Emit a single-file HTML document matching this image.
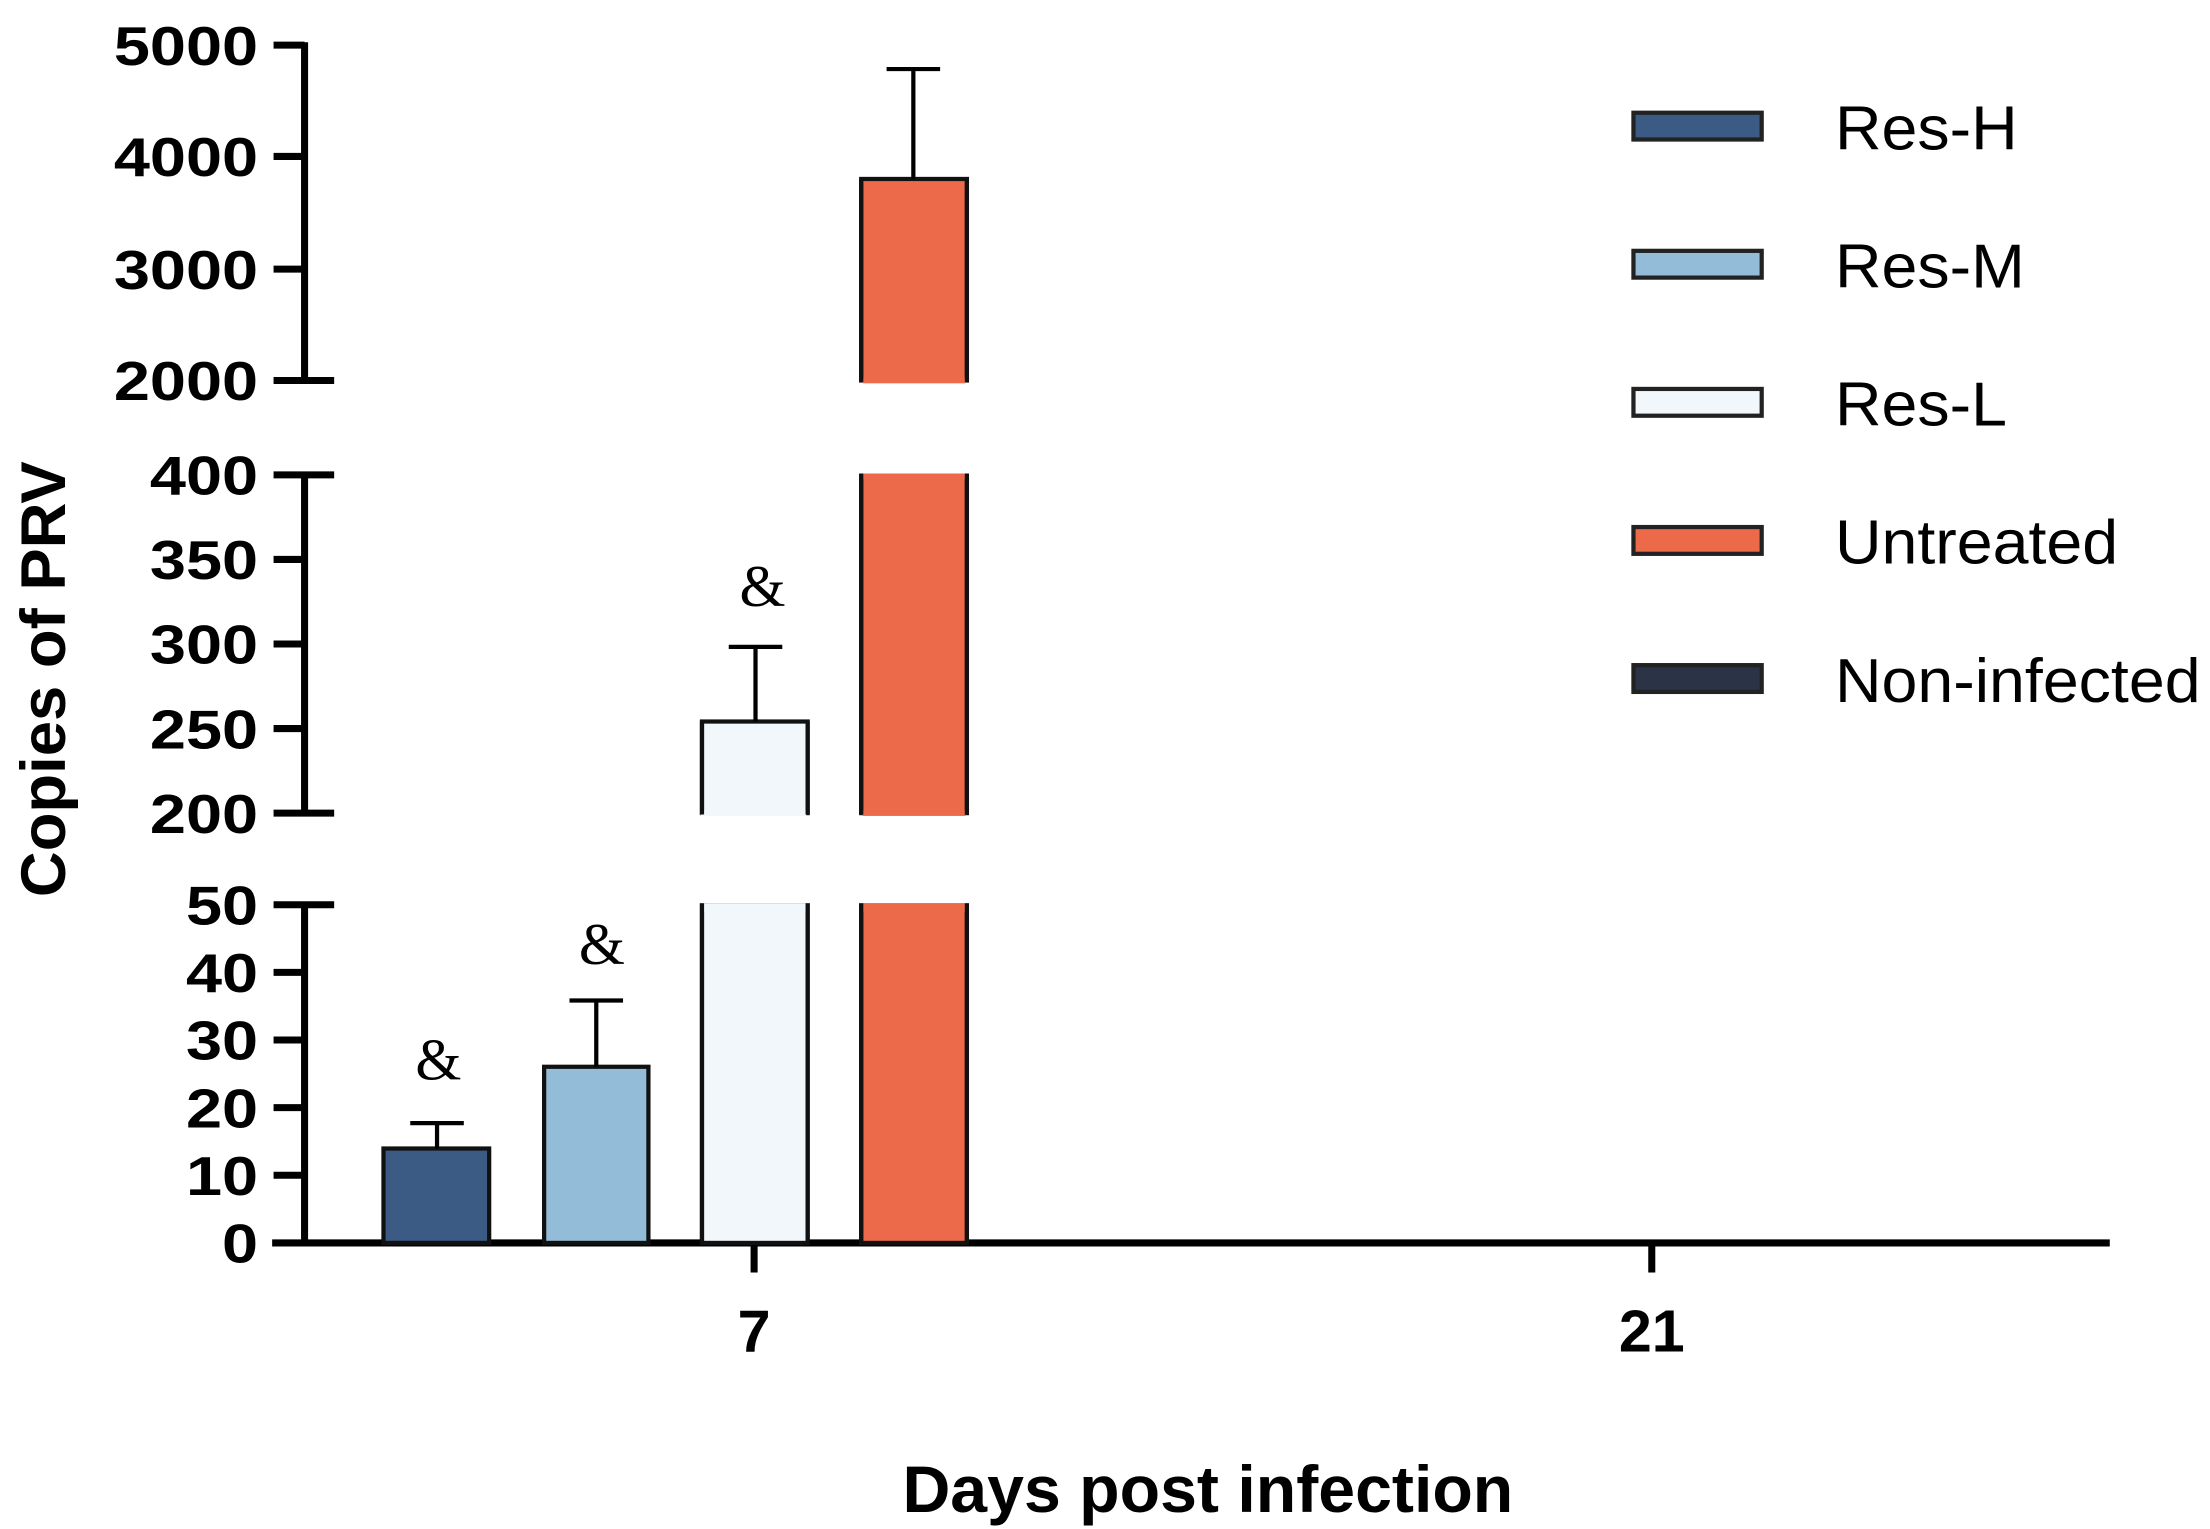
<!DOCTYPE html>
<html><head><meta charset="utf-8"><style>
html,body{margin:0;padding:0;background:#fff;}
svg{display:block;}
</style></head><body>
<svg width="2210" height="1529" viewBox="0 0 1568 1085" xmlns="http://www.w3.org/2000/svg">
<rect width="1568" height="1085" fill="#fff"/>
<g stroke="#000" stroke-width="5" fill="none">
<line x1="216" y1="30" x2="216" y2="272"/>
<line x1="216" y1="335" x2="216" y2="579"/>
<line x1="216" y1="640" x2="216" y2="884"/>
<line x1="194" y1="32" x2="216" y2="32"/>
<line x1="194" y1="111" x2="216" y2="111"/>
<line x1="194" y1="191" x2="216" y2="191"/>
<line x1="194" y1="270" x2="237" y2="270"/>
<line x1="194" y1="337" x2="237" y2="337"/>
<line x1="194" y1="397" x2="216" y2="397"/>
<line x1="194" y1="457" x2="216" y2="457"/>
<line x1="194" y1="517" x2="216" y2="517"/>
<line x1="194" y1="577" x2="237" y2="577"/>
<line x1="194" y1="642" x2="237" y2="642"/>
<line x1="194" y1="690" x2="216" y2="690"/>
<line x1="194" y1="738" x2="216" y2="738"/>
<line x1="194" y1="786" x2="216" y2="786"/>
<line x1="194" y1="834" x2="216" y2="834"/>
<line x1="193" y1="882" x2="1497" y2="882"/>
<line x1="535" y1="882" x2="535" y2="903"/>
<line x1="1172" y1="882" x2="1172" y2="903"/>
</g>
<g font-family="Liberation Sans, sans-serif" font-weight="bold" font-size="39" text-anchor="end" transform="translate(183,0) scale(1.18,1)">
<text x="0" y="46">5000</text><text x="0" y="125">4000</text><text x="0" y="205">3000</text><text x="0" y="284">2000</text>
<text x="0" y="351">400</text><text x="0" y="411">350</text><text x="0" y="471">300</text><text x="0" y="531">250</text><text x="0" y="591">200</text>
<text x="0" y="656">50</text><text x="0" y="704">40</text><text x="0" y="752">30</text><text x="0" y="800">20</text><text x="0" y="848">10</text><text x="0" y="896">0</text>
</g>
<g font-family="Liberation Sans, sans-serif" font-weight="bold" text-anchor="middle">
<text x="535" y="959" font-size="42">7</text><text x="1172" y="959" font-size="42">21</text>
<text x="857" y="1073" font-size="47">Days post infection</text>
<text transform="translate(46,482) rotate(-90)" font-size="45">Copies of PRV</text>
</g>
<g stroke="#111" stroke-width="3">
<rect x="272" y="815" width="75" height="67" fill="#3b5a84"/>
<rect x="386" y="757" width="74" height="125" fill="#93bcd8"/>
<rect x="498" y="642" width="75" height="240" fill="#f1f7fa"/>
<rect x="498" y="512" width="75" height="65" fill="#f1f7fa"/>
<rect x="611" y="642" width="75" height="240" fill="#ec6a4a"/>
<rect x="611" y="337" width="75" height="240" fill="#ec6a4a"/>
<rect x="611" y="127" width="75" height="143" fill="#ec6a4a"/>
</g>
<g>
<rect x="496" y="579" width="80" height="62" fill="#fff"/>
<rect x="609" y="272" width="80" height="64" fill="#fff"/>
<rect x="609" y="579" width="80" height="62" fill="#fff"/>
<rect x="497" y="575" width="75" height="4" fill="#f1f7fa"/>
<rect x="612" y="268" width="73" height="4" fill="#ec6a4a"/>
<rect x="612" y="575" width="73" height="4" fill="#ec6a4a"/>
<rect x="497" y="641" width="75" height="6" fill="#f1f7fa"/>
<rect x="612" y="641" width="73" height="6" fill="#ec6a4a"/>
<rect x="612" y="336" width="73" height="4" fill="#ec6a4a"/>
<g stroke="#111" stroke-width="3">
<line x1="498" y1="641" x2="498" y2="882"/><line x1="573" y1="641" x2="573" y2="882"/>
<line x1="498" y1="512" x2="498" y2="578"/><line x1="573" y1="512" x2="573" y2="578"/>
<line x1="611" y1="127" x2="611" y2="271"/><line x1="686" y1="127" x2="686" y2="271"/>
<line x1="611" y1="336" x2="611" y2="578"/><line x1="686" y1="336" x2="686" y2="578"/>
<line x1="611" y1="641" x2="611" y2="882"/><line x1="686" y1="641" x2="686" y2="882"/>
</g>
</g>
<g stroke="#000" stroke-width="3">
<line x1="310" y1="815" x2="310" y2="797"/><line x1="291" y1="797" x2="329" y2="797"/>
<line x1="423" y1="757" x2="423" y2="710"/><line x1="404" y1="710" x2="442" y2="710"/>
<line x1="536" y1="512" x2="536" y2="459"/><line x1="517" y1="459" x2="555" y2="459"/>
<line x1="648" y1="127" x2="648" y2="49"/><line x1="629" y1="49" x2="667" y2="49"/>
</g>
<g font-family="Liberation Serif, serif" font-size="42" text-anchor="middle">
<text x="311" y="766">&amp;</text><text x="427" y="684">&amp;</text><text x="541" y="430">&amp;</text>
</g>
<g stroke="#222" stroke-width="3">
<rect x="1159" y="80" width="91" height="19" fill="#3b5a84"/>
<rect x="1159" y="178" width="91" height="19" fill="#93bcd8"/>
<rect x="1159" y="276" width="91" height="19" fill="#f1f7fa"/>
<rect x="1159" y="374" width="91" height="19" fill="#ec6a4a"/>
<rect x="1159" y="472" width="91" height="19" fill="#2b3446"/>
</g>
<g font-family="Liberation Sans, sans-serif" font-size="44" transform="translate(1302,0) scale(1.04,1)">
<text x="0" y="106">Res-H</text>
<text x="0" y="204">Res-M</text>
<text x="0" y="302">Res-L</text>
<text x="0" y="400">Untreated</text>
<text x="0" y="498">Non-infected</text>
</g>
</svg>
</body></html>
